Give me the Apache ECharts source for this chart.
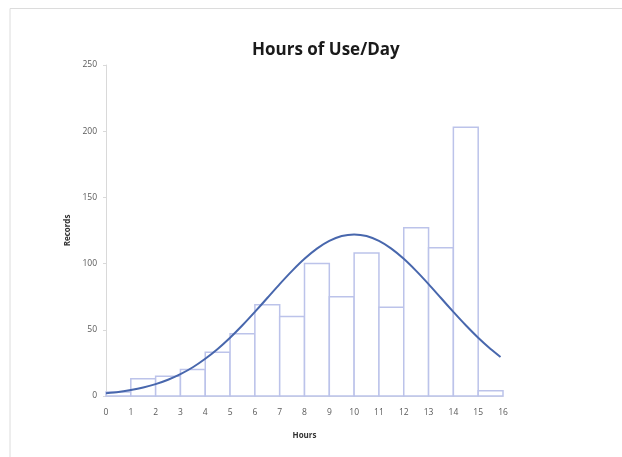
<!DOCTYPE html>
<html>
<head>
<meta charset="utf-8">
<script src="https://cdn.jsdelivr.net/npm/echarts@6/dist/echarts.min.js"></script>
<style>
  html, body { margin: 0; padding: 0; background: #fff; }
  #chart { width: 622px; height: 457px; }
</style>
</head>
<body>
<div id="chart"></div>
<script>
// histogram bins: start hour of each 1-hour bin and record counts
const binStarts = [0, 1, 2, 3, 4, 5, 6, 7, 8, 9, 10, 11, 12, 13, 14, 15]
const binCounts = [3, 13, 15, 20, 33, 47, 69, 60, 100, 75, 108, 67, 127, 112, 203, 4]

// fitted curve
const curveHours = [0, 0.5, 1, 1.5, 2, 2.5, 3, 3.5, 4, 4.5, 5, 5.5, 6, 6.5, 7, 7.5, 8, 8.5,
  9, 9.5, 10, 10.5, 11, 11.5, 12, 12.5, 13, 13.5, 14, 14.5, 15, 15.5, 15.9]
const curveValues = [2.1, 3.1, 4.5, 6.4, 9, 12.3, 16.5, 21.7, 28.1, 35.5, 44, 53.4, 63.5, 74, 84.5, 94.5, 103.6, 111.3,
  117.1, 120.8, 122, 120.8, 117.1, 111.3, 103.6, 94.5, 84.5, 74, 63.5, 53.4, 44, 35.5, 29.5]

const xTicks = [0, 16]
const yTicks = [0, 250]

const chart = echarts.init(document.getElementById('chart'))

const histData = binStarts.map((s, i) => [s, s + 1, binCounts[i]])
const curveData = curveHours.map((h, i) => [h, curveValues[i]])

const labelColor = '#595959'
const axisColor = '#d9d9d9'

chart.setOption({
  backgroundColor: '#fff',
  animation: false,
  title: {
    text: 'Hours of Use/Day',
    left: 247,
    top: 37,
    textStyle: { fontFamily: 'Open Sans', fontWeight: 'bold', fontSize: 17, color: '#1a1a1a' }
  },
  graphic: [
    {
      type: 'polyline',
      shape: { points: [[10, 457], [10, 8.5], [622, 8.5]] },
      style: { stroke: '#dcdcdc', lineWidth: 1, fill: null }
    }
  ],
  grid: { left: 106, right: 119, top: 65, bottom: 61 },
  xAxis: {
    type: 'value',
    min: xTicks[0],
    max: xTicks[1],
    interval: 1,
    name: 'Hours',
    nameLocation: 'middle',
    nameGap: 36,
    nameTextStyle: { fontFamily: 'Open Sans', fontWeight: 'bold', fontSize: 8, color: '#333' },
    axisLine: { lineStyle: { color: axisColor } },
    axisTick: { show: false },
    splitLine: { show: false },
    axisLabel: { fontFamily: 'Open Sans', fontSize: 8.5, color: labelColor, margin: 12 }
  },
  yAxis: {
    type: 'value',
    min: yTicks[0],
    max: yTicks[1],
    interval: 50,
    name: 'Records',
    nameLocation: 'middle',
    nameGap: 33,
    nameRotate: 90,
    nameTextStyle: { fontFamily: 'Open Sans', fontWeight: 'bold', fontSize: 8, color: '#333' },
    axisLine: { show: true, lineStyle: { color: axisColor } },
    axisTick: { show: true, length: 3, lineStyle: { color: axisColor } },
    splitLine: { show: false },
    axisLabel: { fontFamily: 'Open Sans', fontSize: 8.5, color: labelColor, margin: 9 }
  },
  series: [
    {
      type: 'custom',
      data: histData,
      encode: { x: [0, 1], y: 2 },
      renderItem: function (params, api) {
        const p0 = api.coord([api.value(0), 0])
        const p1 = api.coord([api.value(1), api.value(2)])
        return {
          type: 'rect',
          shape: { x: p0[0], y: p1[1], width: p1[0] - p0[0], height: p0[1] - p1[1] },
          style: { fill: '#fff', stroke: '#bcc3ea', lineWidth: 1.5 }
        }
      },
      z: 2
    },
    {
      type: 'line',
      data: curveData,
      smooth: 0.2,
      symbol: 'none',
      lineStyle: { color: '#4867ad', width: 2 },
      z: 3
    }
  ]
})
</script>
</body>
</html>
